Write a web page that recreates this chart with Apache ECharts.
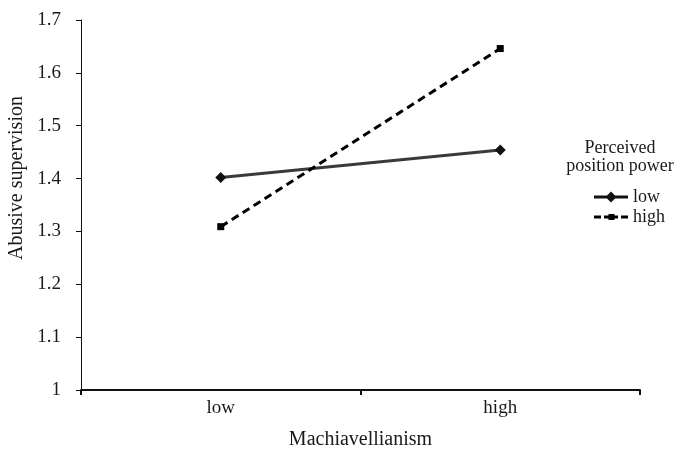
<!DOCTYPE html>
<html>
<head>
<meta charset="utf-8">
<script src="https://cdn.jsdelivr.net/npm/echarts@6/dist/echarts.min.js"></script>
<style>html,body{margin:0;padding:0;background:#fff}#c{width:676px;height:450px}</style>
</head>
<body>
<div id="c"></div>
<script>
var categories = ['low', 'high'];
var lowPower = [1.402, 1.454];
var highPower = [1.309, 1.646];
var yTicks = {min: 1, max: 1.7, interval: 0.1};

var chart = echarts.init(document.getElementById('c'));
var font = 'Liberation Serif';
var txt = '#1a1a1a';
chart.setOption({
  animation: false,
  backgroundColor: '#fff',
  textStyle: {fontFamily: font},
  grid: {left: 81, right: 36, top: 20, bottom: 60, containLabel: false, outerBoundsMode: 'none'},
  title: {
    text: 'Perceived\nposition power',
    left: 615, top: 134, textAlign: 'center', padding: 5,
    textStyle: {fontFamily: font, fontSize: 18, fontWeight: 'normal', color: txt, lineHeight: 18}
  },
  legend: {
    orient: 'vertical', left: 594, top: 188, itemGap: 2, padding: 0,
    itemWidth: 34, itemHeight: 12,
    textStyle: {fontFamily: font, fontSize: 18, color: txt},
    data: [
      {name: 'low', icon: 'path://M0,4.5L34,4.5L34,7.5L0,7.5ZM17,0.5L22.5,6L17,11.5L11.5,6Z'},
      {name: 'high', icon: 'path://M0,1.5L7,1.5L7,4.5L0,4.5ZM10,1.5L24,1.5L24,4.5L10,4.5ZM14.5,0L20.5,0L20.5,6L14.5,6ZM27,1.5L34,1.5L34,4.5L27,4.5Z'}
    ]
  },
  xAxis: {
    type: 'category', data: categories, boundaryGap: true,
    name: 'Machiavellianism', nameLocation: 'middle', nameGap: 40,
    nameTextStyle: {fontFamily: font, fontSize: 20, color: txt},
    axisLine: {lineStyle: {color: '#111', width: 2}},
    axisTick: {show: true, length: 5, lineStyle: {color: '#111', width: 2}},
    axisLabel: {fontFamily: font, fontSize: 19, color: txt, margin: 9}
  },
  yAxis: {
    type: 'value', min: yTicks.min, max: yTicks.max, interval: yTicks.interval,
    name: 'Abusive supervision', nameLocation: 'middle', nameGap: 53,
    nameTextStyle: {fontFamily: font, fontSize: 20, color: txt, padding: [0, 0, 0, 54]},
    axisLine: {show: true, lineStyle: {color: '#111', width: 1}},
    axisTick: {show: true, length: 5, lineStyle: {color: '#111'}},
    splitLine: {show: false},
    axisLabel: {fontFamily: font, fontSize: 19, color: txt, margin: 20,
      formatter: function (v) { return String(Math.round(v * 10) / 10); }}
  },
  series: [
    {
      name: 'low', type: 'line', data: lowPower,
      symbol: 'diamond', symbolSize: 11,
      lineStyle: {color: '#3a3a3a', width: 3},
      itemStyle: {color: '#111'}
    },
    {
      name: 'high', type: 'line', data: highPower,
      symbol: 'rect', symbolSize: 7,
      lineStyle: {color: '#000', width: 3, type: [8, 5]},
      itemStyle: {color: '#000'}
    }
  ]
});
</script>
</body>
</html>
